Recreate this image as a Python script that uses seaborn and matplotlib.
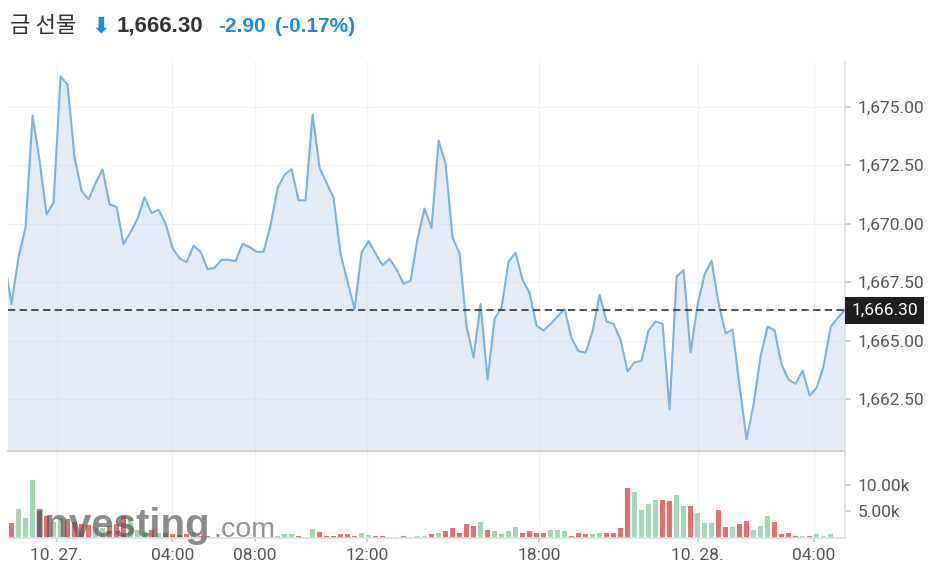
import matplotlib
matplotlib.use("Agg")
import matplotlib.pyplot as plt
import numpy as np
import pandas as pd
import seaborn as sns
from matplotlib.ticker import FuncFormatter

# 15분 봉 종가 (첫 값은 화면 왼쪽 밖의 직전 봉)
prices = [
    1668.37,
    1666.57, 1668.57, 1669.85, 1674.62, 1672.70, 1670.40, 1670.91, 1676.30, 1675.94, 1672.84,
    1671.40, 1671.04, 1671.74, 1672.32, 1670.83, 1670.72, 1669.13, 1669.65, 1670.22, 1671.13,
    1670.46, 1670.60, 1670.01, 1668.96, 1668.52, 1668.36, 1669.06, 1668.80, 1668.06, 1668.12,
    1668.46, 1668.46, 1668.40, 1669.14, 1669.00, 1668.80, 1668.80, 1669.94, 1671.52, 1672.09,
    1672.33, 1671.00, 1671.00, 1674.66, 1672.39, 1671.74, 1671.11, 1668.70, 1667.52, 1666.35,
    1668.77, 1669.26, 1668.73, 1668.23, 1668.50, 1668.05, 1667.43, 1667.57, 1669.37, 1670.65,
    1669.82, 1673.55, 1672.56, 1669.41, 1668.73, 1665.61, 1664.29, 1666.57, 1663.34, 1665.94,
    1666.42, 1668.38, 1668.76, 1667.60, 1667.03, 1665.64, 1665.44, 1665.72, 1666.04, 1666.36,
    1665.11, 1664.55, 1664.49, 1665.41, 1666.96, 1665.82, 1665.72, 1665.04, 1663.69, 1664.08,
    1664.15, 1665.44, 1665.82, 1665.72, 1662.06, 1667.74, 1668.02, 1664.50, 1666.53, 1667.84,
    1668.42, 1666.60, 1665.32, 1665.47, 1663.06, 1660.79, 1662.28, 1664.33, 1665.61, 1665.44,
    1663.98, 1663.34, 1663.16, 1663.72, 1662.66, 1662.99, 1663.91, 1665.59, 1665.97, 1666.30,
]

# 거래량 (천 단위)
volumes_k = [
    2.0,
    2.8, 5.5, 3.85, 10.9, 5.0, 4.2, 3.1, 3.7, 3.6, 3.1,
    2.7, 2.5, 1.9, 1.9, 2.3, 2.7, 4.2, 3.7, 1.6, 1.2,
    1.6, 0.9, 0.9, 0.8, 0.6, 0.8, 1.2, 0.4, 0.4, 0.25,
    0.2, 0.2, 0.25, 0.3, 0.2, 0.25, 0.25, 0.3, 0.5, 0.8,
    0.8, 0.5, 0.3, 1.7, 1.1, 0.5, 0.5, 0.8, 0.8, 0.4,
    1.05, 0.7, 0.5, 0.5, 0.3, 0.3, 0.4, 0.3, 0.4, 0.4,
    0.8, 1.05, 1.4, 1.9, 0.9, 2.7, 2.2, 3.0, 1.55, 1.3,
    0.75, 1.3, 2.1, 1.0, 1.35, 1.0, 1.0, 1.55, 1.55, 1.3,
    0.45, 1.0, 0.75, 0.75, 1.0, 1.0, 1.0, 1.85, 9.4, 8.6,
    5.2, 6.4, 7.1, 7.1, 6.9, 8.0, 6.0, 6.0, 4.7, 2.8,
    2.8, 5.2, 2.1, 2.1, 2.7, 3.2, 1.55, 2.35, 4.1, 3.05,
    0.75, 1.0, 0.45, 0.45, 0.45, 0.75, 0.45, 0.75, 0.2, 0.1,
]

# x축 눈금 (봉 인덱스 기준)
time_tick_pos = [7.44, 23.96, 35.77, 51.81, 76.34, 99.01, 115.6]
time_tick_labels = ["10. 27.", "04:00", "08:00", "12:00", "18:00", "10. 28.", "04:00"]

price_ticks = [1662.5, 1665.0, 1667.5, 1670.0, 1672.5, 1675.0]
volume_ticks = [5, 10]

last_price = 1666.30
change = -2.90
change_pct = -0.17

df = pd.DataFrame({"idx": np.arange(len(prices)), "price": prices, "volume": volumes_k})
df["dir"] = np.where(df["price"].diff().fillna(0) >= 0, "up", "down")
bar_palette = {"up": "#a3d6b3", "down": "#e36f6f"}

sns.set_theme(style="white")
plt.rcParams["font.family"] = ["Roboto", "DejaVu Sans"]

fig = plt.figure(figsize=(9.36, 5.86), dpi=100)
W, H = 936, 586
ax = fig.add_axes([8 / W, 135 / H, 837 / W, 389 / H])
axv = fig.add_axes([8 / W, 47.7 / H, 837 / W, 86.3 / H])

grid_color = "#f1f1f3"
axis_color = "#dde1e8"
label_color = "#555555"

# 가격 영역 차트
ax.fill_between(df["idx"], df["price"], 1600, color="#c9dbeb", alpha=0.5, lw=0, zorder=1)
sns.lineplot(data=df, x="idx", y="price", ax=ax, color="#7eb2da", linewidth=1.5, zorder=3)
ax.axhline(last_price, color="#333333", lw=1.2, ls=(0, (4.4, 2.6)), zorder=4)

ax.set_xlim(0.49, 120.06)
ax.set_ylim(1660.29, 1676.91)
ax.set_yticks(price_ticks)
ax.yaxis.tick_right()
ax.yaxis.set_major_formatter(FuncFormatter(lambda v, _: f"{v:,.2f}"))
ax.set_xticks(time_tick_pos)
ax.tick_params(axis="x", bottom=False, labelbottom=False)
ax.tick_params(axis="y", right=True, length=4, color="#c5cad3",
               labelsize=12.5, labelcolor=label_color, pad=5)
ax.grid(True, color=grid_color, lw=0.9)
ax.set_xlabel("")
ax.set_ylabel("")
for s in ["top", "left"]:
    ax.spines[s].set_visible(False)
ax.spines["bottom"].set_color("#c9c9c9")
ax.spines["right"].set_color(axis_color)

ax.annotate(f"{last_price:,.2f}", xy=(1, last_price), xycoords=("axes fraction", "data"),
            xytext=(4.5, 0), textcoords="offset points", ha="left", va="center",
            color="white", fontsize=12.5,
            bbox=dict(boxstyle="square,pad=0.35", fc="#1f1f1f", ec="none"),
            annotation_clip=False, zorder=5)

# 거래량 막대
axv.bar(df["idx"], df["volume"], width=0.64,
        color=df["dir"].map(bar_palette), lw=0, zorder=2)
axv.set_xlim(0.49, 120.06)
axv.set_ylim(0, 16.07)
axv.set_yticks(volume_ticks)
axv.yaxis.tick_right()
axv.yaxis.set_major_formatter(FuncFormatter(lambda v, _: f"{v:.2f}k"))
axv.set_xticks(time_tick_pos)
axv.set_xticklabels(time_tick_labels)
axv.tick_params(axis="x", bottom=True, length=3, color="#c5cad3",
                labelsize=12.5, labelcolor=label_color, pad=4)
axv.tick_params(axis="y", right=True, length=4, color="#c5cad3",
                labelsize=12.5, labelcolor=label_color, pad=5)
axv.grid(True, axis="x", color=grid_color, lw=0.9)
axv.set_xlabel("")
axv.set_ylabel("")
for s in ["top", "left"]:
    axv.spines[s].set_visible(False)
axv.spines["bottom"].set_color(axis_color)
axv.spines["right"].set_color(axis_color)

# 제목
ty = 1 - 26 / H
fig.text(10 / W, ty, "금 선물", family=["Noto Sans CJK KR", "DejaVu Sans"],
         fontsize=16, color="#333333", va="center")
fig.text(92 / W, ty, "⬇", family=["DejaVu Sans"], fontsize=16,
         fontweight="bold", color="#1e8ae6", va="center")
fig.text(117 / W, ty, f"{last_price:,.2f}", family=["Liberation Sans"],
         fontsize=16, fontweight="bold", color="#333333", va="center")
fig.text(218 / W, ty, f"{change:.2f}", family=["Liberation Sans"],
         fontsize=15, fontweight="bold", color="#1e8ae6", va="center")
fig.text(275 / W, ty, f"({change_pct:.2f}%)", family=["Liberation Sans"],
         fontsize=15, fontweight="bold", color="#1e8ae6", va="center")

# 워터마크
fig.text(33 / W, 49 / H, "Investing", family=["Liberation Sans"], fontsize=29,
         fontweight="bold", color="#555555", alpha=0.68, va="baseline")
fig.text(213 / W, 49 / H, ".com", family=["Liberation Sans"], fontsize=20.5,
         color="#707070", alpha=0.75, va="baseline")

fig.savefig("out.png", dpi=100)
